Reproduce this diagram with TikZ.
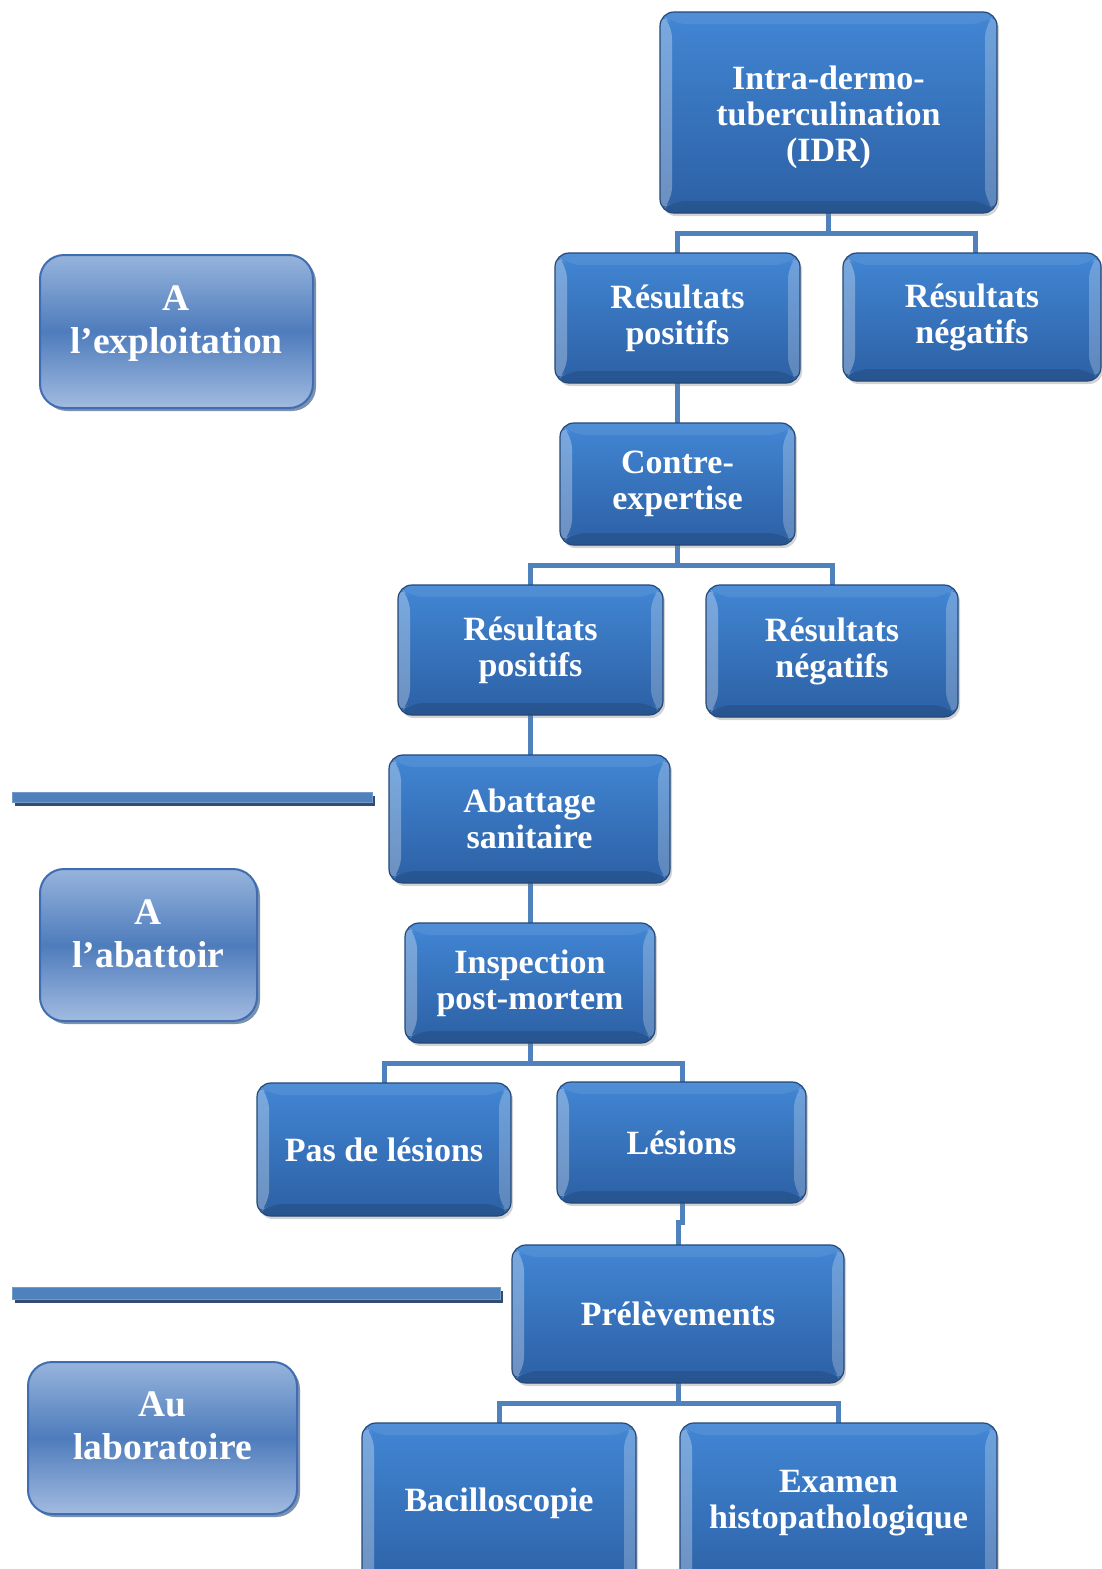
\documentclass[tikz,border=0pt]{standalone}
\usepackage{fontspec}
\setmainfont{Liberation Serif}
\usetikzlibrary{shadows}
\definecolor{boxtop}{RGB}{66,134,212}
\definecolor{boxbot}{RGB}{44,96,164}
\definecolor{boxdraw}{RGB}{36,72,120}
\definecolor{conn}{RGB}{79,129,189}
\definecolor{labtop}{RGB}{150,180,220}
\definecolor{labmid}{RGB}{78,124,188}
\definecolor{labbot}{RGB}{162,187,224}
\definecolor{labdraw}{RGB}{64,108,178}
\tikzset{
  bluebox/.style={draw=boxdraw, line width=1.2pt, rounded corners=14pt,
    top color=boxtop, bottom color=boxbot, text=white,
    font=\fontsize{34}{36}\selectfont\bfseries, align=center,
    inner sep=0pt, outer sep=0pt,
    drop shadow={opacity=0.35, shadow xshift=2pt, shadow yshift=-3pt},
    path picture={
      \fill[white,opacity=0.3] (path picture bounding box.north west) -- ++(12pt,-12pt) -- ([shift={(12pt,12pt)}]path picture bounding box.south west) -- (path picture bounding box.south west) -- cycle;
      \fill[white,opacity=0.24] (path picture bounding box.north east) -- ++(-12pt,-12pt) -- ([shift={(-12pt,12pt)}]path picture bounding box.south east) -- (path picture bounding box.south east) -- cycle;
      \fill[black,opacity=0.12] (path picture bounding box.south west) -- ++(12pt,12pt) -- ([shift={(-12pt,12pt)}]path picture bounding box.south east) -- (path picture bounding box.south east) -- cycle;
      \fill[white,opacity=0.08] (path picture bounding box.north west) -- ++(12pt,-12pt) -- ([shift={(-12pt,-12pt)}]path picture bounding box.north east) -- (path picture bounding box.north east) -- cycle;
    }},
  sidelabel/.style={draw=labdraw, line width=2pt, rounded corners=24pt,
    top color=labtop, bottom color=labbot, middle color=labmid,
    text=white, font=\fontsize{37.5}{43}\selectfont\bfseries, align=center,
    inner sep=0pt, outer sep=0pt,
    drop shadow={opacity=0.6, fill=boxdraw, shadow xshift=3pt, shadow yshift=-3pt}},
  link/.style={draw=conn, line width=5pt},
  bar/.style={fill=conn, draw=conn!80!white, line width=1pt,
    drop shadow={opacity=0.9, fill=boxdraw!80!black, shadow xshift=3pt, shadow yshift=-4pt}}
}
\newcommand{\bbox}[6]{% name, x1, y1, x2, y2, text
  \node[bluebox, minimum width={(#4-#2)*1pt}, minimum height={(#5-#3)*1pt}]
    (#1) at ({(#2+#4)/2},{(#3+#5)/2}) {#6};}
\newcommand{\lbox}[6]{%
  \node[sidelabel, minimum width={(#4-#2)*1pt}, minimum height={(#5-#3)*1pt}]
    (#1) at ({(#2+#4)/2},{(#3+#5)/2}) {#6};}
\newcommand{\lift}[2]{\raisebox{#1}[0pt][0pt]{\begin{tabular}{@{}c@{}}#2\end{tabular}}}
\begin{document}
\begin{tikzpicture}[x=1pt,y=-1pt]
\useasboundingbox (0,0) rectangle (1102,1569);
\clip (0,0) rectangle (1102,1569);
% connectors first
\coordinate (j1) at (828,233);
\coordinate (j2) at (677,565);
\coordinate (j3) at (530,1063);
\coordinate (j4) at (678,1403);
\coordinate (j5) at (682,1222);
\coordinate (j6) at (678,1222);
\draw[link] (828,213) -- (j1);
\draw[link] (677,255) |- (975,233) -- (975,255);
\draw[link] (677,380) -- (677,426);
\draw[link] (677,542) -- (j2);
\draw[link] (530,588) |- (832,565) -- (832,588);
\draw[link] (530,712) -- (530,758);
\draw[link] (530,880) -- (530,926);
\draw[link] (530,1040) -- (j3);
\draw[link] (384,1086) |- (682,1063) -- (682,1085);
\draw[link] (682,1200) -- (j5) -- (j6) -- (678,1248);
\draw[link] (678,1380) -- (j4);
\draw[link] (499,1426) |- (838,1403) -- (838,1426);
% boxes
\bbox{idr}{660}{12}{997}{213}{\lift{-12.5pt}{Intra-dermo-\\tuberculination\\(IDR)}}
\bbox{rp1}{555}{253}{800}{383}{Résultats\\positifs}
\bbox{rn1}{843}{253}{1101}{381}{Résultats\\négatifs}
\bbox{ce}{560}{423}{795}{545}{Contre-\\expertise}
\bbox{rp2}{398}{585}{663}{715}{Résultats\\positifs}
\bbox{rn2}{706}{585}{958}{717}{Résultats\\négatifs}
\bbox{ab}{389}{755}{670}{883}{Abattage\\sanitaire}
\bbox{ins}{405}{923}{655}{1043}{Inspection\\post-mortem}
\bbox{pas}{257}{1083}{511}{1216}{Pas de lésions}
\bbox{les}{557}{1082}{806}{1203}{Lésions}
\bbox{pre}{512}{1245}{844}{1383}{Prélèvements}
\bbox{bac}{362}{1423}{636}{1595}{\lift{-1.5pt}{Bacilloscopie}}
\bbox{exa}{680}{1423}{997}{1595}{\lift{-0.5pt}{Examen\\histopathologique}}
% side labels
\lbox{expl}{40}{255}{313}{408}{\lift{1.5pt}{A\\l’exploitation}}
\lbox{abat}{40}{869}{257}{1021}{\lift{1.5pt}{A\\l’abattoir}}
\lbox{labo}{28}{1362}{297}{1514}{\lift{2.5pt}{Au\\laboratoire}}
% bars
\path[bar] (12,792) rectangle (372,802);
\path[bar] (12,1287) rectangle (500,1299);
\end{tikzpicture}
\end{document}
